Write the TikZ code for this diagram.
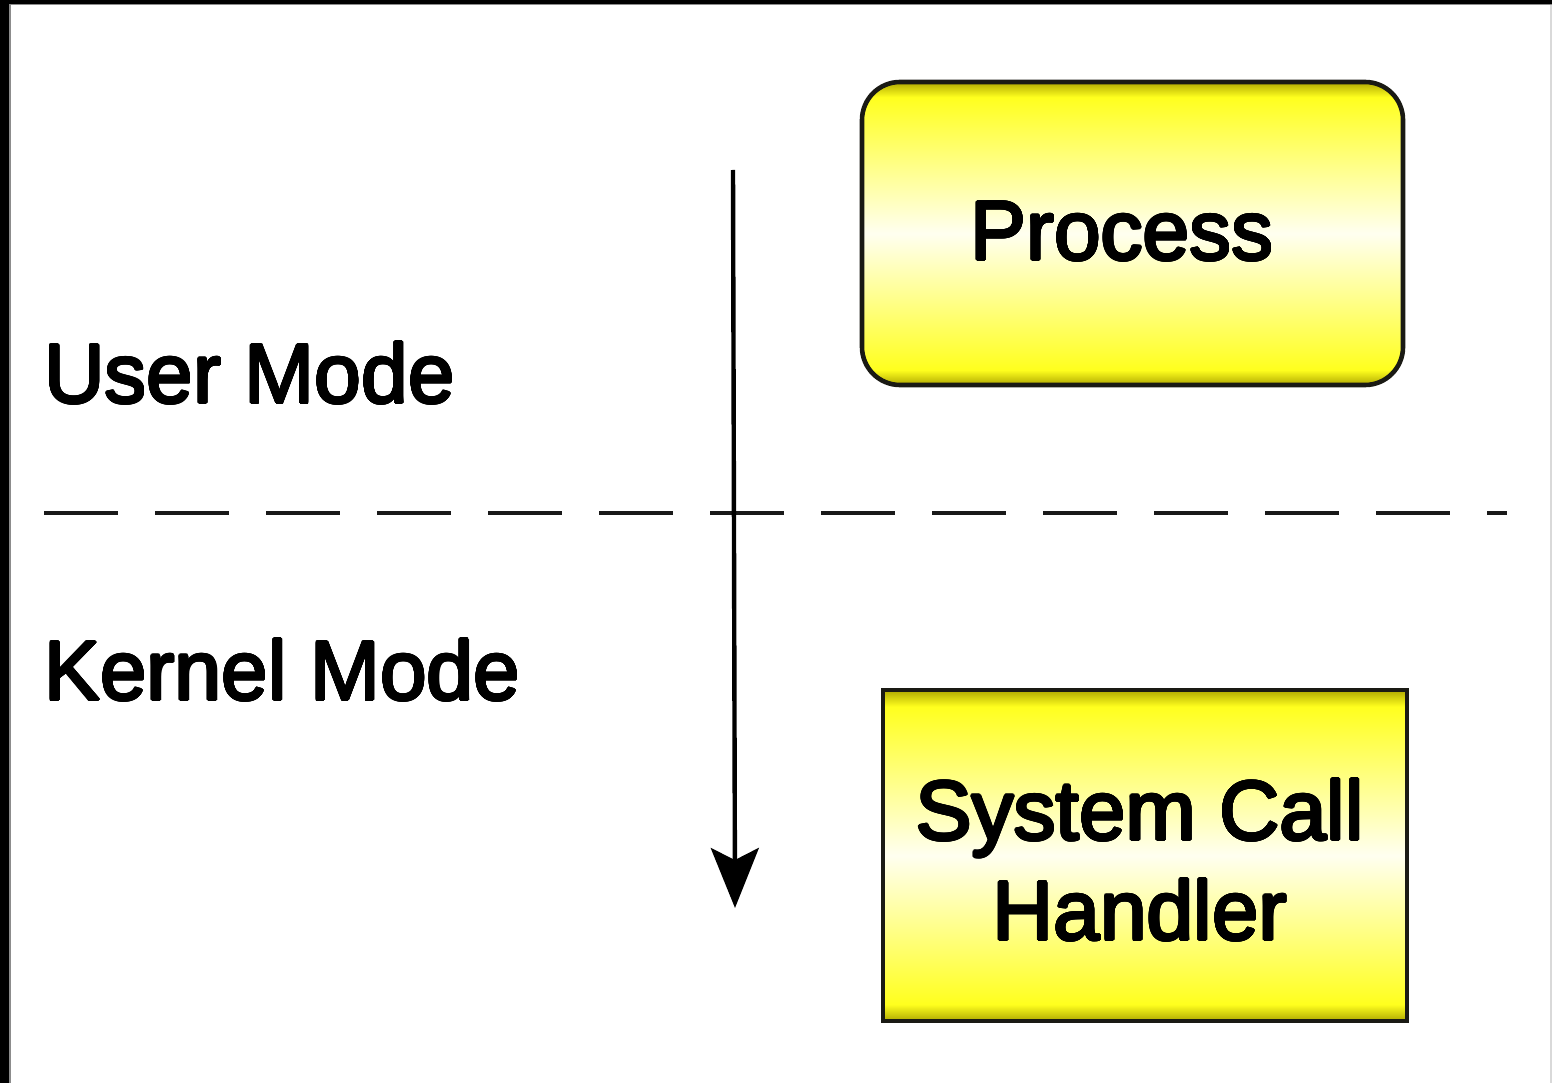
\documentclass[tikz,border=0pt]{standalone}
\usepackage{fontspec}
\setmainfont{Liberation Sans}
\usepackage{contour}
\contourlength{1.1pt}
\contournumber{24}
\usetikzlibrary{arrows.meta}

\definecolor{edgedark}{RGB}{26,26,20}
\definecolor{ydark}{RGB}{175,168,0}
\definecolor{ybright}{RGB}{255,255,30}
\definecolor{ylight}{RGB}{255,255,240}

% yellow box fill: dark rim, bright yellow, pale centre, mirrored
\pgfdeclareverticalshading{yellowbox}{100bp}{%
  color(0bp)=(ydark); color(25bp)=(ydark); color(27.5bp)=(ybright);
  color(50bp)=(ylight);
  color(72.5bp)=(ybright); color(75bp)=(ydark); color(100bp)=(ydark)}

% heavier sans lettering
\newcommand{\heavytext}[1]{\contour{black}{#1}}

\tikzset{
  box/.style={draw=edgedark, line width=4.6pt, shading=yellowbox,
    inner sep=0pt, minimum width=#1},
  label/.style={font=\fontsize{84}{100}\selectfont, inner sep=0pt},
  modeline/.style={line width=4.6pt, dash pattern=on 74pt off 37pt, draw=black!90},
  flow/.style={line width=4.4pt, -{Stealth[length=60pt, width=48pt, inset=12pt]}},
}

\begin{document}
\begin{tikzpicture}[x=1pt, y=-1pt]
  \useasboundingbox (0,0) rectangle (1552,1083);
  \fill[white] (0,0) rectangle (1552,1083);
  % frame edges
  \fill[black] (0,0) rectangle (1552,4);
  \fill[black] (0,0) rectangle (9,1083);
  \fill[black!45] (9,4) rectangle (10.5,1083);
  \fill[black!45] (9,4) rectangle (1552,5.5);
  \fill[black!15] (1550,5) rectangle (1552,1083);

  % boxes
  \node[box=541pt, minimum height=303pt, rounded corners=38pt] (proc) at (1132.5,233.5) {};
  \node[box=524pt, minimum height=331pt] (sch) at (1145,855.5) {};

  % texts
  \node[label, anchor=base] (proct) at (1122,260) {\heavytext{Process}};
  \node[label, anchor=base] (scht) at (1140,840) {\heavytext{System Call}};
  \node[label, anchor=base] (scht2) at (1140,940) {\heavytext{Handler}};
  \node[label, anchor=base west] (user) at (44,403) {\heavytext{User Mode}};
  \node[label, anchor=base west] (kern) at (44,700) {\heavytext{Kernel Mode}};

  % user/kernel boundary
  \coordinate (bl) at (44,513);
  \coordinate (br) at (1507,513);
  \draw[modeline] (bl) -- (br);

  % mode transition arrow
  \coordinate (astart) at (733,170);
  \coordinate (aend) at (735,908);
  \draw[flow] (astart) -- (aend);
\end{tikzpicture}
\end{document}
